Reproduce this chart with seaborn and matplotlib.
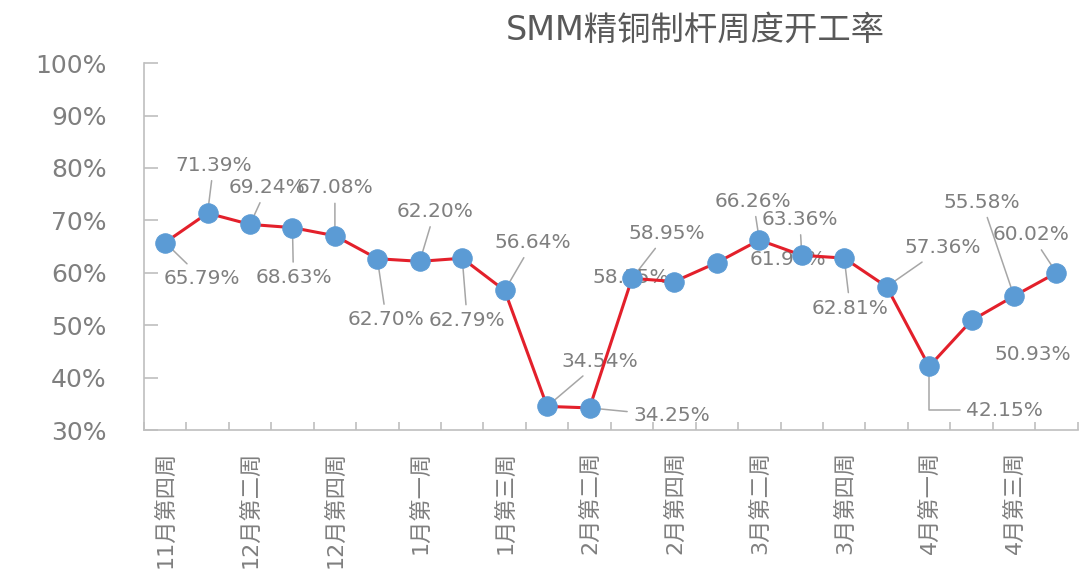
import matplotlib
matplotlib.use('Agg')
import matplotlib.pyplot as plt
import seaborn as sns
import pandas as pd
import numpy as np

# 数据
week_labels = ['11月第四周', '', '12月第二周', '', '12月第四周', '', '1月第一周', '',
               '1月第三周', '', '2月第二周', '', '2月第四周', '', '3月第二周', '',
               '3月第四周', '', '4月第一周', '', '4月第三周', '']
rates = [65.79, 71.39, 69.24, 68.63, 67.08, 62.70, 62.20, 62.79, 56.64, 34.54, 34.25,
         58.95, 58.35, 61.96, 66.26, 63.36, 62.81, 57.36, 42.15, 50.93, 55.58, 60.02]
title = 'SMM精铜制杆周度开工率'

# 标签偏移 (像素) 与是否画引导线
label_offsets = [(37, -36), (6, 48), (17, 37), (1, -50), (0, 48), (9, -61), (15, 50),
                 (5, -62), (28, 48), (53, 45), (82, -8), (35, 45), (-44, 4), (71, 3),
                 (-6, 39), (-2, 36), (6, -50), (56, 39), (75, -44), (61, -34),
                 (-32, 94), (-25, 38)]
no_leader = {12, 13, 19}

sns.set_theme(style='white')
plt.rcParams['font.family'] = ['DejaVu Sans', 'Noto Sans CJK SC']
plt.rcParams['axes.unicode_minus'] = False

df = pd.DataFrame({'pos': np.arange(len(rates)), 'rate': rates})

fig = plt.figure(figsize=(10.82, 5.79), dpi=100)
ax = fig.add_axes([0.133, 0.257, 0.863, 0.634])

sns.lineplot(data=df, x='pos', y='rate', ax=ax, color='#E3202B', lw=2.2,
             marker='o', markersize=14, markerfacecolor='#5B9BD5',
             markeredgecolor='#5B9BD5', zorder=5)

grey_txt = '#7F7F7F'
lead_col = '#A6A6A6'
for i, (v, off) in enumerate(zip(rates, label_offsets)):
    kw = {}
    if i not in no_leader:
        ap = dict(arrowstyle='-', color=lead_col, lw=1.1, shrinkA=2, shrinkB=0)
        if i == 18:
            ap['connectionstyle'] = 'angle,angleA=0,angleB=90,rad=0'
            ap['relpos'] = (0, 0.5)
        kw['arrowprops'] = ap
    ax.annotate(f'{v:.2f}%', xy=(i, v), xytext=off, textcoords='offset pixels',
                ha='center', va='center', fontsize=14.5, color=grey_txt, zorder=3, **kw)

ax.set_xlim(-0.5, len(rates) - 0.5)
ax.set_ylim(30, 100)
ax.set_yticks(range(30, 101, 10))
ax.set_yticklabels([f'{t}%' for t in range(30, 101, 10)], fontsize=18, color=grey_txt)

ax.set_xticks(np.arange(len(rates)))
ax.set_xticklabels(week_labels, rotation=90, fontsize=16, color=grey_txt, va='top')
ax.tick_params(axis='x', which='major', length=0, pad=15)
ax.set_xticks(np.arange(len(rates) + 1) - 0.5, minor=True)
ax.tick_params(axis='x', which='minor', direction='in', length=6, width=1.2, color='#BFBFBF', bottom=True)
ax.tick_params(axis='y', direction='in', length=10, width=1.2, color='#BFBFBF', pad=27, left=True)

for s in ['top', 'right']:
    ax.spines[s].set_visible(False)
for s in ['left', 'bottom']:
    ax.spines[s].set_color('#BFBFBF')
    ax.spines[s].set_linewidth(1.2)
ax.set_xlabel('')
ax.set_ylabel('')

fig.text(695 / 1082, 1 - 30 / 579, title, ha='center', va='center', fontsize=24, color='#595959')

fig.savefig('out.png', dpi=100)
